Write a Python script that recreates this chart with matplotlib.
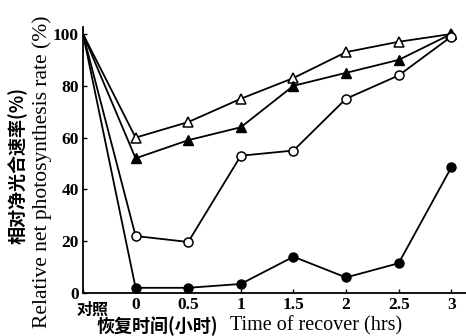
import matplotlib
matplotlib.use("Agg")
import matplotlib.pyplot as plt

plt.rcParams['font.family'] = ['Liberation Serif', 'Noto Sans CJK SC']

# ── data ------------------------------------------------------------------- #
x_labels = ["对照", "0", "0.5", "1", "1.5", "2", "2.5", "3"]
open_tri   = [100, 60, 66, 75, 83, 93, 97, 100]
filled_tri = [100, 52, 59, 64, 80, 85, 90, 100]
open_circ  = [100, 22, 19.7, 53, 55, 75, 84, 99]
filled_circ = [100, 2, 2, 3.5, 14, 6, 11.5, 48.5]

# ── figure ----------------------------------------------------------------- #
fig = plt.figure(figsize=(4.66, 3.36), dpi=100)
ax = fig.add_axes([83/466, 43/336, 383/466, 266/336])
xs = list(range(len(x_labels)))
marks = list(range(1, len(x_labels)))

ax.plot(xs, open_tri, color="k", lw=1.3, marker="^", ms=6.5, mfc="white",
        mec="k", mew=1.1, markevery=marks)
ax.plot(xs, filled_tri, color="k", lw=1.3, marker="^", ms=6.5, mfc="k",
        mec="k", markevery=marks)
ax.plot(xs, open_circ, color="k", lw=1.3, marker="o", ms=6.5, mfc="white",
        mec="k", mew=1.1, markevery=marks)
ax.plot(xs, filled_circ, color="k", lw=1.3, marker="o", ms=6.5, mfc="k",
        mec="k", markevery=marks)

ax.set_xlim(0, 7.28)
ax.set_ylim(0, 102.7)
ax.set_xticks(xs)
# first category label is drawn separately, nudged right of the spine
ax.set_xticklabels([""] + x_labels[1:])
ax.set_yticks([0, 20, 40, 60, 80, 100])
ax.tick_params(direction="in", length=3, labelsize=12.5, width=1, pad=3)
for lab in ax.get_xticklabels() + ax.get_yticklabels():
    lab.set_fontweight("bold")
ax.spines["top"].set_visible(False)
ax.spines["right"].set_visible(False)
ax.spines["left"].set_linewidth(1.3)
ax.spines["bottom"].set_linewidth(1.3)

cjk = ["Noto Sans CJK SC", "DejaVu Sans"]
fig.text(93/466, 1 - 310/336, x_labels[0], ha="center", va="center",
         fontsize=11.5, fontweight="bold", family=cjk)

# axis titles
fig.text(18/466, 1 - 165/336, "相对净光合速率(%)", rotation=90, ha="center",
         va="center", fontsize=13, fontweight="bold", family=cjk)
fig.text(42/466, 1 - 172/336, "Relative net photosynthesis rate (%)",
         rotation=90, ha="center", va="center", fontsize=15.5)
fig.text(97/466, 1 - 326/336, "恢复时间(小时)", ha="left", va="center",
         fontsize=13, fontweight="bold", family=cjk)
fig.text(230/466, 1 - 326/336, "Time of recover (hrs)", ha="left",
         va="center", fontsize=14.5)

fig.savefig("out.png", dpi=100)
